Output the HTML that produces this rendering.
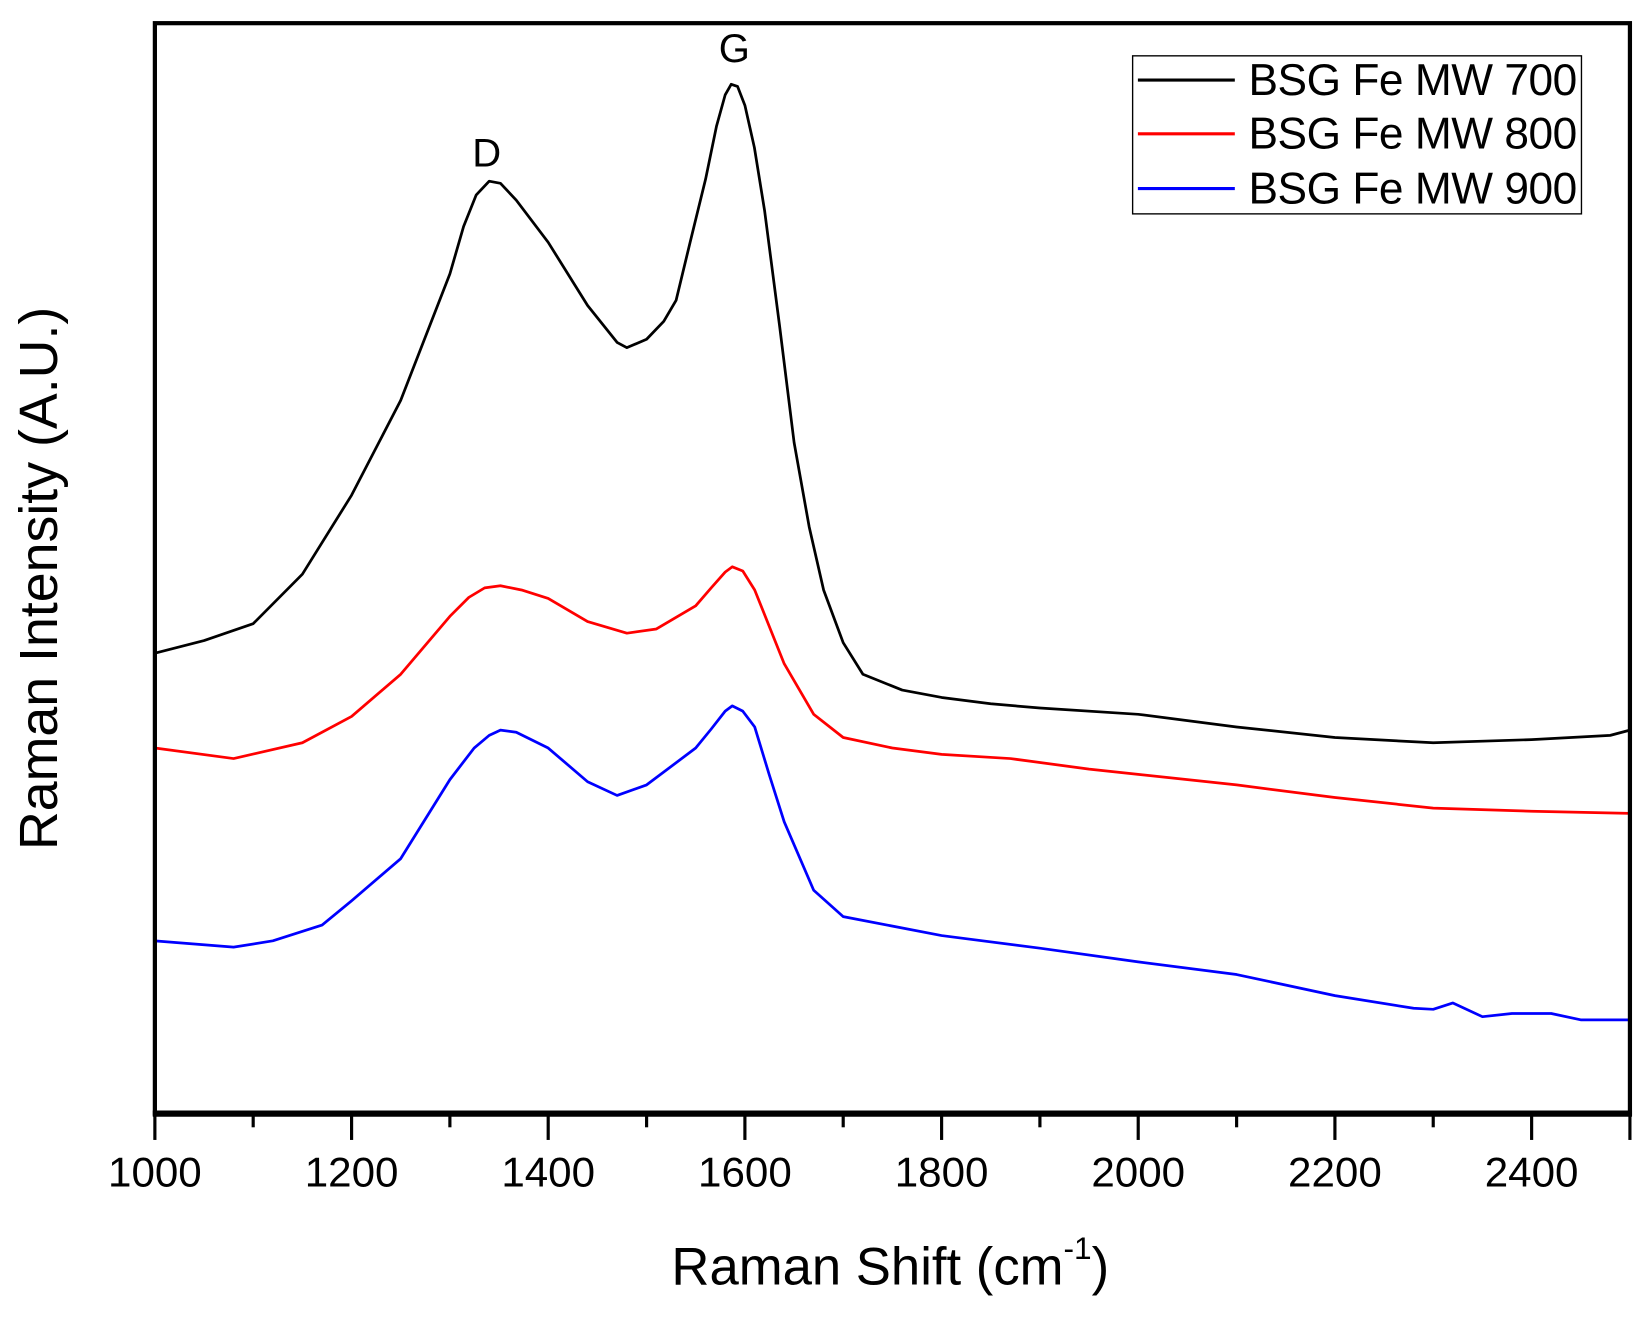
<!DOCTYPE html>
<html><head><meta charset="utf-8"><style>html,body{margin:0;padding:0;background:#fff}svg{display:block}</style></head>
<body>
<svg width="1651" height="1318" viewBox="0 0 1567 1251" preserveAspectRatio="none" xmlns="http://www.w3.org/2000/svg" font-family="Liberation Sans, Arial, sans-serif">
<rect width="1567" height="1251" fill="#fff"/>
<g fill="none" stroke-width="2.6" stroke-linejoin="round">
<polyline stroke="#000" points="147,620 193.7,608 240.3,592 287,545 333.7,470 380.3,380 427,260 440,215 452,185 464.3,172 475,174 490,190 520.3,230 557.7,290 585.7,325 595,330 613.7,322 630,305 641.7,285 655,230 669.7,170 680,120 688.3,90 694,80 700,82 707,100 716,140 725.7,200 740,310 753.7,420 768,500 781.7,560 800.3,610 819,640 856.3,655 893.7,662 940.3,668 987,672 1080.3,678 1173.7,690 1267,700 1360.3,705 1453.7,702 1528.3,698 1547,693"/>
<polyline stroke="#f00" points="147,710 221.7,720 287,705 333.7,680 380.3,640 427,585 445,567 460,558 475,556 495,560 520.3,568 557.7,590 595,601 623,597 660.3,575 675,558 688.3,543 695,538 705,542 716.3,560 744.3,630 772.3,678 800.3,700 847,710 893.7,716 959,720 1033.7,730 1080.3,735 1173.7,745 1267,757 1360.3,767 1453.7,770 1547,772"/>
<polyline stroke="#00f" points="147,893 221.7,899 259,893 305.7,878 333.7,855 380.3,815 427,740 450,710 464.3,698 475,693 490,695 520.3,710 557.7,742 585.7,755 613.7,745 660.3,710 675,692 688.3,675 695,670 705,675 716.3,690 730,735 744.3,780 772.3,845 800.3,870 893.7,888 987,900 1080.3,913 1173.7,925 1267,945 1341.7,957 1360.3,958 1379,952 1407,965 1435,962 1472.3,962 1500.3,968 1547,968"/>
</g>
<rect x="147" y="22" width="1400" height="1035" fill="none" stroke="#000" stroke-width="4"/>
<line x1="145" y1="1057" x2="1549" y2="1057" stroke="#000" stroke-width="6"/>
<g stroke="#000" stroke-width="3">
<line x1="147" y1="1057" x2="147" y2="1082"/><line x1="333.7" y1="1057" x2="333.7" y2="1082"/><line x1="520.3" y1="1057" x2="520.3" y2="1082"/><line x1="707" y1="1057" x2="707" y2="1082"/><line x1="893.7" y1="1057" x2="893.7" y2="1082"/><line x1="1080.3" y1="1057" x2="1080.3" y2="1082"/><line x1="1267" y1="1057" x2="1267" y2="1082"/><line x1="1453.7" y1="1057" x2="1453.7" y2="1082"/><line x1="1547" y1="1057" x2="1547" y2="1082"/>
<line x1="240.3" y1="1057" x2="240.3" y2="1070"/><line x1="427" y1="1057" x2="427" y2="1070"/><line x1="613.7" y1="1057" x2="613.7" y2="1070"/><line x1="800.3" y1="1057" x2="800.3" y2="1070"/><line x1="987" y1="1057" x2="987" y2="1070"/><line x1="1173.7" y1="1057" x2="1173.7" y2="1070"/><line x1="1360.3" y1="1057" x2="1360.3" y2="1070"/>
</g>
<g font-size="40" text-anchor="middle" fill="#000">
<text x="147" y="1126">1000</text><text x="333.7" y="1126">1200</text><text x="520.3" y="1126">1400</text><text x="707" y="1126">1600</text><text x="893.7" y="1126">1800</text><text x="1080.3" y="1126">2000</text><text x="1267" y="1126">2200</text><text x="1453.7" y="1126">2400</text>
</g>
<text x="845" y="1219" font-size="50" text-anchor="middle">Raman Shift (cm<tspan font-size="30" dy="-24">-1</tspan><tspan dy="24">)</tspan></text>
<text transform="translate(54,549) rotate(-90)" font-size="51" text-anchor="middle">Raman Intensity (A.U.)</text>
<text x="462" y="158" font-size="38" text-anchor="middle">D</text>
<text x="697" y="59" font-size="38" text-anchor="middle">G</text>
<rect x="1075" y="53" width="426" height="150" fill="#fff" stroke="#000" stroke-width="1.3"/>
<g stroke-width="3"><line x1="1080" y1="76" x2="1172" y2="76" stroke="#000"/><line x1="1080" y1="127" x2="1172" y2="127" stroke="#f00"/><line x1="1080" y1="179" x2="1172" y2="179" stroke="#00f"/></g>
<g font-size="42" textLength="312"><text x="1185" y="90" textLength="312">BSG Fe MW 700</text><text x="1185" y="141" textLength="312">BSG Fe MW 800</text><text x="1185" y="193" textLength="312">BSG Fe MW 900</text></g>
</svg>
</body></html>
